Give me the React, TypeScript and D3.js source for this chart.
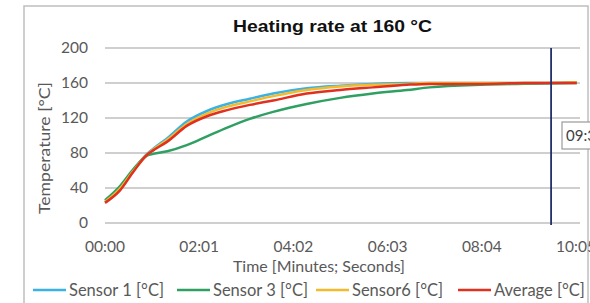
import React from 'react';
import * as d3 from 'd3';

// time in seconds since start
const times = [0, 19, 36, 54, 62, 80, 105, 131, 157, 186, 216, 259, 302, 344, 388, 417, 482, 540, 606];
const sensor1 = [24, 39, 60, 79, 85, 97, 116, 128, 136, 142, 148, 154, 157, 159, 160, 160, 160, 160, 161];
const sensor3 = [26, 42, 61, 77, 79, 82, 89, 99, 109, 119, 127, 136, 143, 148, 152, 155, 158, 159, 160];
const sensor6 = [24, 39, 59, 78, 84, 95, 113, 125, 133, 139, 145, 152, 156, 158, 159, 160, 160, 160, 161];
const average = [23, 37, 58, 78, 83, 93, 111, 122, 129, 135, 140, 148, 152, 155, 158, 159, 159, 160, 160];

const xTicks = [0, 121, 242, 363, 484, 605];
const yTicks = [0, 40, 80, 120, 160, 200];
const markerTime = 573;
const markerLabel = '09:33';

const series = [
  { name: 'Sensor 1 [°C]', values: sensor1, color: '#3bb2e2' },
  { name: 'Sensor 3 [°C]', values: sensor3, color: '#2fa062' },
  { name: 'Sensor6 [°C]', values: sensor6, color: '#f2bb2e' },
  { name: 'Average [°C]', values: average, color: '#e0301f' },
];

const legendX = [33, 177, 316, 458];

const fmt = (s: number) => {
  const m = Math.floor(s / 60);
  const sec = s % 60;
  return `${String(m).padStart(2, '0')}:${String(sec).padStart(2, '0')}`;
};

const App: React.FC = () => {
  const x = d3.scaleLinear().domain([0, 605]).range([105, 576]);
  const y = d3.scaleLinear().domain([0, 200]).range([223, 48]);

  const line = d3.line<[number, number]>()
    .x(d => x(d[0]))
    .y(d => y(d[1]))
    .curve(d3.curveMonotoneX);

  const font = 'Lato, "Open Sans", sans-serif';

  return (
    <svg width={590} height={303} style={{ position: 'fixed', left: 0, top: 0, background: '#fff' }}>
      <rect x={24} y={6} width={564} height={310} fill="#fff" stroke="#bfbfbf" strokeWidth={1.5} />

      <text x={233} y={32} textLength={199} lengthAdjust="spacingAndGlyphs"
        fontFamily='"Liberation Sans", Arial, sans-serif'
        fontWeight="bold" fontSize={17} fill="#111">Heating rate at 160 °C</text>

      {/* gridlines */}
      {yTicks.map(t => (
        <line key={t} x1={105} x2={580} y1={y(t)} y2={y(t)} stroke="#cfcfcf" strokeWidth={2} />
      ))}

      {/* y tick labels */}
      {yTicks.map(t => (
        <text key={t} x={88} y={y(t)} dy="0.35em" textAnchor="end" fontFamily={font}
          fontSize={15.5} fill="#595959">{t}</text>
      ))}

      {/* x tick labels */}
      {xTicks.map(t => (
        <text key={t} x={x(t)} y={252} textAnchor="middle" fontFamily={font}
          fontSize={15.5} fill="#595959">{fmt(t)}</text>
      ))}

      <text transform="translate(50,148) rotate(-90)" textAnchor="middle" fontFamily={font}
        fontSize={16} textLength={132} lengthAdjust="spacingAndGlyphs" fill="#595959">Temperature [°C]</text>
      <text x={319} y={272} textAnchor="middle" fontFamily={font} fontSize={15.5}
        textLength={172} lengthAdjust="spacingAndGlyphs" fill="#595959">Time [Minutes; Seconds]</text>

      {/* series */}
      {series.map(s => (
        <path key={s.name}
          d={line(times.map((t, i) => [t, s.values[i]] as [number, number])) || ''}
          fill="none" stroke={s.color} strokeWidth={2.5} strokeLinejoin="round" />
      ))}

      {/* marker */}
      <line x1={x(markerTime)} x2={x(markerTime)} y1={48} y2={225} stroke="#1f2f6b" strokeWidth={1.8} />
      <rect x={562} y={122} width={40} height={27} fill="#fff" stroke="#9a9a9a" strokeWidth={1.2} />
      <text x={566} y={136} dy="0.35em" fontFamily={font} fontSize={15} fill="#404040">{markerLabel}</text>

      {/* legend */}
      {series.map((s, i) => (
        <g key={s.name}>
          <line x1={legendX[i]} x2={legendX[i] + 33} y1={290} y2={290} stroke={s.color} strokeWidth={2.5} />
          <text x={legendX[i] + 36} y={290} dy="0.35em" fontFamily={font} fontSize={16.5}
            fill="#595959">{s.name}</text>
        </g>
      ))}
    </svg>
  );
};

export default App;
